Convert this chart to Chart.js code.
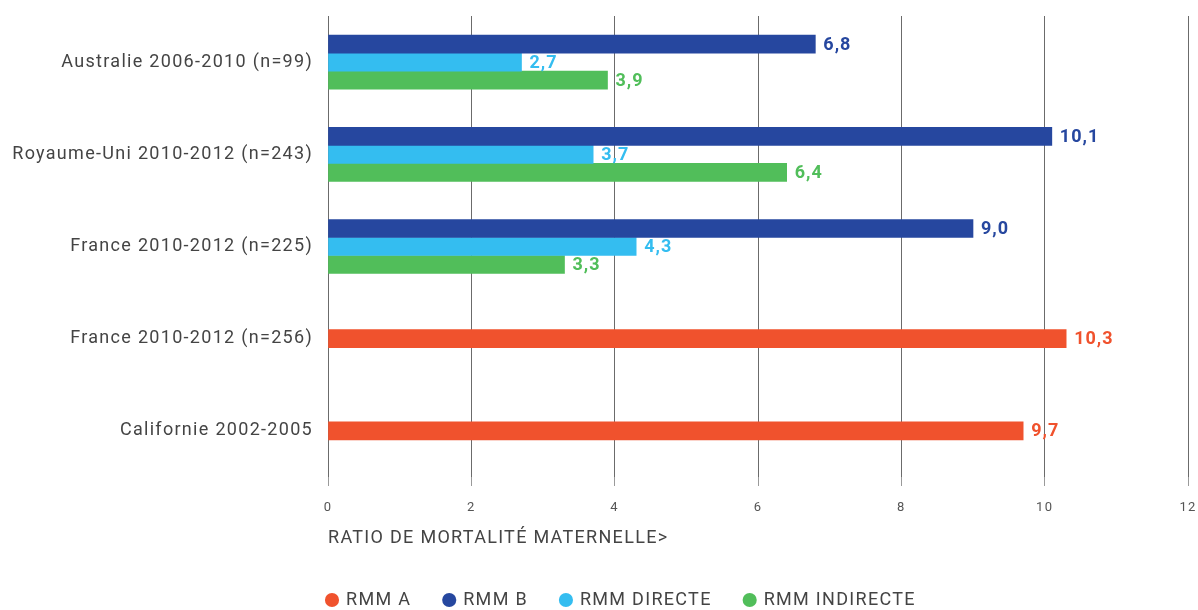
<!DOCTYPE html>
<html>
<head>
<meta charset="utf-8">
<script src="https://cdn.jsdelivr.net/npm/chart.js@4/dist/chart.umd.min.js"></script>
<style>
  html, body { margin: 0; padding: 0; background: #ffffff; }
  #wrap { width: 1198px; height: 610px; position: relative; }
</style>
</head>
<body>
<div id="wrap"><canvas id="c"></canvas></div>
<script>
const categories = [
  'Australie 2006-2010 (n=99)',
  'Royaume-Uni 2010-2012 (n=243)',
  'France 2010-2012 (n=225)',
  'France 2010-2012 (n=256)',
  'Californie 2002-2005'
];
const seriesNames = ['RMM A', 'RMM B', 'RMM DIRECTE', 'RMM INDIRECTE'];
const rmmA         = [null, null, null, 10.3, 9.7];
const rmmB         = [6.8, 10.1, 9.0, null, null];
const rmmDirecte   = [2.7, 3.7, 4.3, null, null];
const rmmIndirecte = [3.9, 6.4, 3.3, null, null];
const xTicks = [0, 2, 4, 6, 8, 10, 12];
const axisTitle = 'RATIO DE MORTALITÉ MATERNELLE>';

const colors = ['#F0522D', '#26479F', '#34BDF0', '#51BE5A'];
const FONT = 'Roboto, "DejaVu Sans", sans-serif';
const LETTER = '1.3px';

const spacing = {
  id: 'spacing',
  beforeInit(chart) { chart.ctx.letterSpacing = LETTER; },
  beforeUpdate(chart) { chart.ctx.letterSpacing = LETTER; },
  beforeDraw(chart) { chart.ctx.letterSpacing = LETTER; }
};

const valueLabels = {
  id: 'valueLabels',
  afterDatasetsDraw(chart) {
    const ctx = chart.ctx;
    ctx.save();
    ctx.letterSpacing = '1px';
    ctx.font = 'bold 18px ' + FONT;
    ctx.textAlign = 'left';
    ctx.textBaseline = 'middle';
    chart.data.datasets.forEach((ds, di) => {
      const meta = chart.getDatasetMeta(di);
      meta.data.forEach((el, i) => {
        const v = ds.data[i];
        if (v === null || v === undefined) return;
        ctx.fillStyle = ds.backgroundColor;
        ctx.fillText(v.toFixed(1).replace('.', ','), el.x + 8, el.y + 1);
      });
    });
    ctx.restore();
  }
};

const legendPlace = {
  id: 'legendPlace',
  afterLayout(chart) {
    const lg = chart.legend;
    if (!lg) return;
    const pad = lg.options.labels.padding;
    const fs = lg.options.labels.font.size;
    const dx = (327 - pad) - lg.left;
    const dy = (600 - pad - fs / 2) - lg.top;
    lg.left += dx; lg.right += dx;
    lg.top += dy; lg.bottom += dy;
  }
};

const datasetsData = [rmmA, rmmB, rmmDirecte, rmmIndirecte];

new Chart(document.getElementById('c'), {
  type: 'bar',
  data: {
    labels: categories,
    datasets: datasetsData.map((d, i) => ({
      label: seriesNames[i],
      data: d,
      backgroundColor: colors[i],
      borderWidth: 0,
      barThickness: 18,
      skipNull: true
    }))
  },
  options: {
    indexAxis: 'y',
    responsive: true,
    maintainAspectRatio: false,
    animation: false,
    layout: { padding: { top: 16, right: 10, left: 0, bottom: 0 } },
    scales: {
      x: {
        type: 'linear',
        min: 0, max: 12,
        afterBuildTicks(scale) { scale.ticks = xTicks.map(v => ({ value: v })); },
        afterFit(scale) {
          scale.height = 72;
          scale.paddingLeft = 0; scale.paddingRight = 0;
        },
        grid: { color: '#6b6b6b', lineWidth: 1, drawTicks: true, tickLength: 9, tickColor: '#9a9a9a' },
        border: { display: false },
        ticks: { color: '#555555', font: { family: FONT, size: 13 }, padding: 14 },
        title: {
          display: true, text: axisTitle, align: 'start',
          color: '#444444', font: { family: FONT, size: 18 },
          padding: { top: 4, bottom: 0 }
        }
      },
      y: {
        afterFit(scale) {
          scale.width = 328;
          scale.paddingTop = 0; scale.paddingBottom = 0;
        },
        grid: { display: false, drawTicks: false },
        border: { display: false },
        ticks: { color: '#444444', font: { family: FONT, size: 18 }, padding: 15 }
      }
    },
    plugins: {
      legend: {
        position: 'bottom',
        align: 'start',
        labels: {
          usePointStyle: true, pointStyle: 'circle',
          boxWidth: 10, boxHeight: 10,
          color: '#444444', font: { family: FONT, size: 18 },
          padding: 33
        }
      },
      tooltip: { enabled: false }
    }
  },
  plugins: [spacing, valueLabels, legendPlace]
});
</script>
</body>
</html>
